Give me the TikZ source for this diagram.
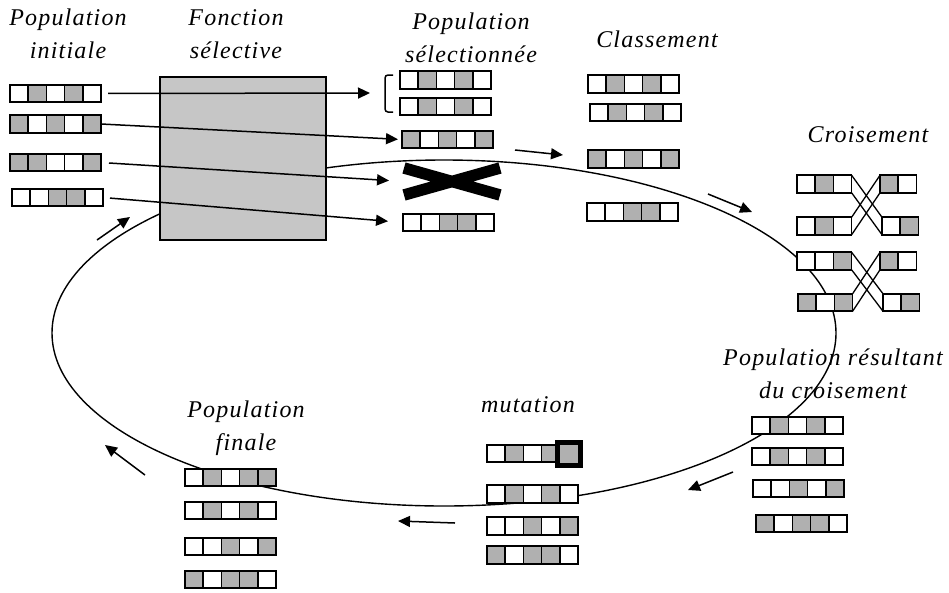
\documentclass[tikz,border=0pt]{standalone}
\usepackage{fontspec}
\newfontfamily\lblfont{Liberation Serif}[LetterSpace=5]
\usepackage{tikz}
\usetikzlibrary{arrows.meta,calc,shapes.misc}
\definecolor{cellgray}{HTML}{B0B0B0}
\definecolor{boxgray}{HTML}{C6C6C6}

% one chromosome: name, left end, list of cells (0 white, 1 gray, 2 mutated)
\newcommand\chrom[3]{%
  \foreach \c [count=\k] in {#3}
    \node[cell,c\c] (#1-\k) at ($(#2)+(\k*18.2-9.1,0)$) {};
}

\begin{document}
\begin{tikzpicture}[
  x=1pt,y=-1pt,
  cell/.style={draw,line width=1.6pt,minimum width=18.2pt,minimum height=17.5pt,inner sep=0pt,outer sep=0pt},
  c0/.style={fill=white},
  c1/.style={fill=cellgray},
  c2/.style={fill=cellgray,line width=5pt,minimum size=23pt},
  lbl/.style={font=\lblfont\itshape\fontsize{24}{33}\selectfont,align=center,anchor=base,inner sep=0pt},
  ar/.style={-{Triangle[length=12pt,width=11pt]},line width=1.5pt},
  cyc/.style={line width=1.4pt},
  xline/.style={line width=1.3pt}
]
\useasboundingbox (0,0) rectangle (949,592);

\draw[cyc] (444,333) ellipse [x radius=392pt,y radius=173pt];

\node[draw,fill=boxgray,line width=1.6pt,minimum width=166pt,minimum height=163pt,inner sep=0pt] (sel) at (243,158.5) {};

\chrom{i1}{10,93.5}{0,1,0,1,0}
\chrom{i2}{10,124}{1,0,1,0,1}
\chrom{i3}{10,162.5}{1,1,0,0,1}
\chrom{i4}{12,197.5}{0,0,1,1,0}

\chrom{s1}{400,80}{0,1,0,1,0}
\chrom{s2}{400,106.5}{0,1,0,1,0}
\chrom{s3}{402,139.5}{1,0,1,0,1}
\chrom{s4}{403,222.5}{0,0,1,1,0}
\node[cross out,draw,line width=11.5pt,minimum width=96pt,minimum height=27pt,inner sep=0pt,outer sep=0pt] (rej) at (452,181.5) {};

\chrom{c1}{588,84}{0,1,0,1,0}
\chrom{c2}{590,112.5}{0,1,0,1,0}
\chrom{c3}{588,159}{1,0,1,0,1}
\chrom{c4}{587,212}{0,0,1,1,0}

\chrom{x1a}{797,184}{0,1,0}
\chrom{x1b}{880,184}{1,0}
\chrom{x1c}{797,226}{0,1,0}
\chrom{x1d}{882,226}{0,1}
\chrom{x2a}{797,261}{0,0,1}
\chrom{x2b}{880,261}{1,0}
\chrom{x2c}{798,302.5}{1,0,1}
\chrom{x2d}{883,302.5}{0,1}
\draw[xline] (x1a-3.north east) -- (x1d-1.north west);
\draw[xline] (x1a-3.south east) -- (x1d-1.south west);
\draw[xline] (x1c-3.north east) -- (x1b-1.north west);
\draw[xline] (x1c-3.south east) -- (x1b-1.south west);
\draw[xline] (x2a-3.north east) -- (x2d-1.north west);
\draw[xline] (x2a-3.south east) -- (x2d-1.south west);
\draw[xline] (x2c-3.north east) -- (x2b-1.north west);
\draw[xline] (x2c-3.south east) -- (x2b-1.south west);

\chrom{r1}{752,425.5}{0,1,0,1,0}
\chrom{r2}{752,456.5}{0,1,0,1,0}
\chrom{r3}{753,488.5}{0,0,1,0,1}
\chrom{r4}{756,523.5}{1,0,1,1,0}

\chrom{m1}{487,453.5}{0,1,0,1,2}
\chrom{m2}{487,494}{0,1,0,1,0}
\chrom{m3}{487,526}{0,0,1,0,1}
\chrom{m4}{487,555}{1,0,1,1,0}

\chrom{f1}{185,477.5}{0,1,0,1,1}
\chrom{f2}{185,510.5}{0,1,0,1,0}
\chrom{f3}{185,546.5}{0,0,1,0,1}
\chrom{f4}{185,579.5}{1,0,1,1,0}

\draw[line width=1.5pt,rounded corners=3pt] (393,75) -- (385,75) -- (385,112) -- (393,112);
\coordinate (brk) at (385,93);

\draw[ar,shorten <=7pt,shorten >=15pt] (i1-5.east) -- (brk);
\draw[ar,shorten <=1pt,shorten >=4pt] (i2-5.east) -- (s3-1.west);
\draw[ar,shorten <=8pt,shorten >=15pt] (i3-5.east) -- (rej.west);
\draw[ar,shorten <=7pt,shorten >=15pt] (i4-5.east) -- (s4-1.west);

\draw[ar] (97,240) -- (130,217);
\draw[ar] (515,150) -- (563,155);
\draw[ar] (708,194) -- (752,212);
\draw[ar] (733,472) -- (688,490);
\draw[ar] (455,523) -- (398,521);
\draw[ar] (145,475) -- (105,445);

\node[lbl] (lpi) at (68,58) {Population\\initiale};
\node[lbl] (lfs) at (236,58) {Fonction\\sélective};
\node[lbl] (lps) at (471,62) {Population\\sélectionnée};
\node[lbl] (lcl) at (657,47) {Classement};
\node[lbl] (lcr) at (868,142) {Croisement};
\node[lbl] (lpr) at (833,398) {Population résultant\\du croisement};
\node[lbl] (lmu) at (528,412) {mutation};
\node[lbl] (lpf) at (246,450) {Population\\finale};
\end{tikzpicture}
\end{document}
